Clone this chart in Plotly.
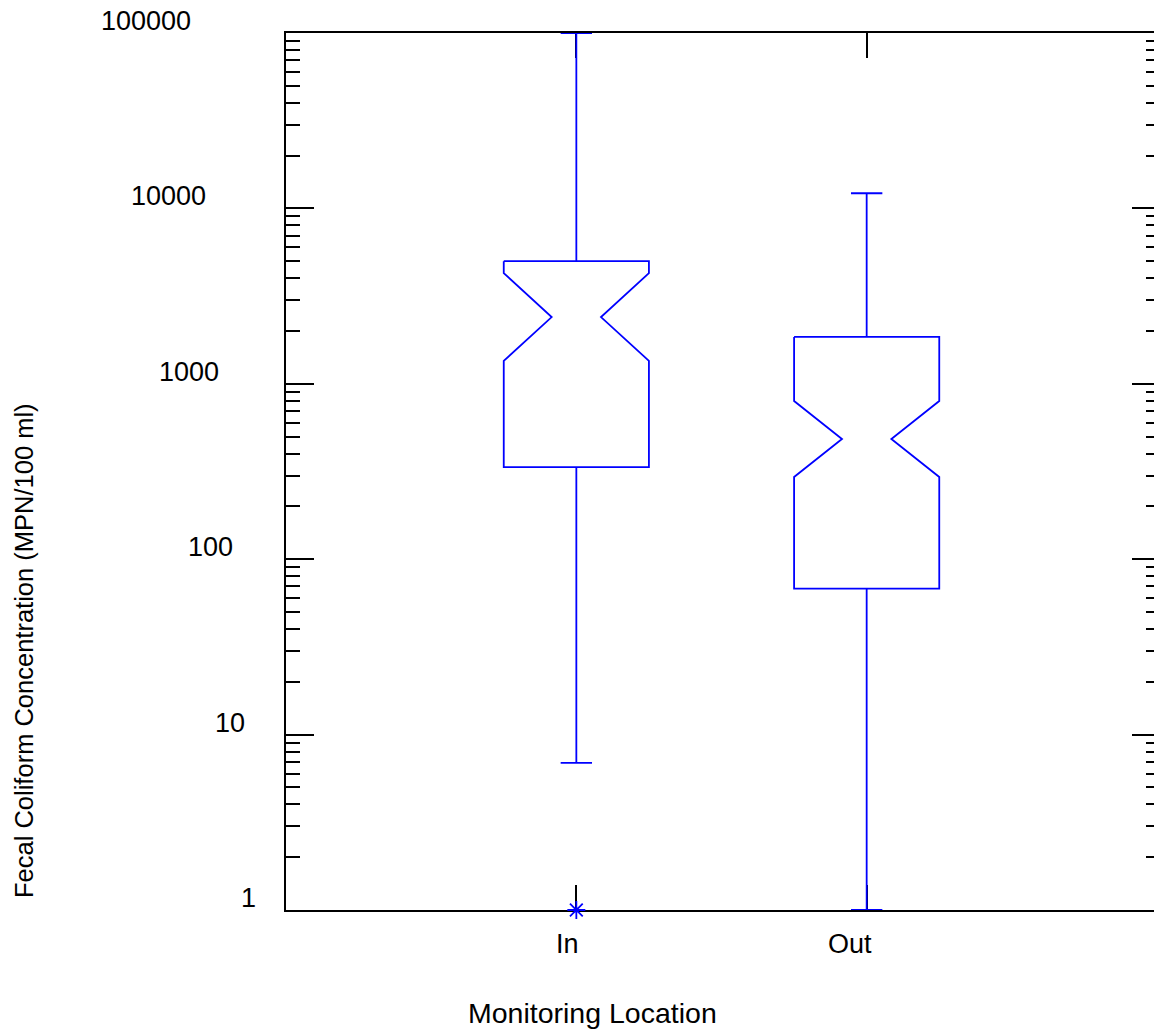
import math
import plotly.graph_objects as go

# ---------------- data ----------------
categories = ["In", "Out"]
q1 = [335, 68]
median = [2400, 484]
q3 = [5000, 1850]
notch_low = [1350, 294]
notch_high = [4280, 798]
whisker_low = [6.9, 1]
whisker_high = [100000, 12200]
outliers = [[1], []]

major_ticks = [1, 10, 100, 1000, 10000, 100000]
major_tick_labels = ["1", "10", "100", "1000", "10000", "100000"]
minor_ticks = [m * d for d in major_ticks[:-1] for m in range(2, 10)]

x_title = "Monitoring Location"
y_title = "Fecal Coliform Concentration (MPN/100 ml)"

# ---------------- style / layout ----------------
BLUE = "#0000ff"
FONT = "Arial, 'Liberation Sans', Helvetica, sans-serif"
W, H = 1162, 1034          # plot frame runs slightly past the 1154px window, as in the reference
ML, MT, MB, MR = 286, 33, 124, 0
PX_PER_UNIT = 291.0
HALF_BOX = 0.25
HALF_NOTCH = 0.085
HALF_CAP = 0.054
ylab_xshift = [-28, -39, -51, -65, -78, -93]   # label right edges (px from axis)
xlab_xshift = [-9, -17]
FS = 27
LW = 1.8

positions = list(range(1, len(categories) + 1))

fig = go.Figure()

for i, c in enumerate(positions):
    xs, ys = [], []
    # notched box outline
    xs += [c - HALF_BOX, c + HALF_BOX, c + HALF_BOX, c + HALF_NOTCH, c + HALF_BOX,
           c + HALF_BOX, c - HALF_BOX, c - HALF_BOX, c - HALF_NOTCH, c - HALF_BOX, c - HALF_BOX, None]
    ys += [q3[i], q3[i], notch_high[i], median[i], notch_low[i],
           q1[i], q1[i], notch_low[i], median[i], notch_high[i], q3[i], None]
    # whiskers
    xs += [c, c, None, c - HALF_CAP, c + HALF_CAP, None]
    ys += [q3[i], whisker_high[i], None, whisker_high[i], whisker_high[i], None]
    xs += [c, c, None, c - HALF_CAP, c + HALF_CAP]
    ys += [q1[i], whisker_low[i], None, whisker_low[i], whisker_low[i]]
    fig.add_trace(go.Scatter(x=xs, y=ys, mode="lines",
                             line=dict(color=BLUE, width=LW),
                             hoverinfo="skip", showlegend=False, cliponaxis=False))
    if outliers[i]:
        fig.add_trace(go.Scatter(x=[c] * len(outliers[i]), y=outliers[i], mode="markers",
                                 marker=dict(symbol="asterisk-open", size=15, color=BLUE,
                                             line=dict(color=BLUE, width=1.8)),
                                 showlegend=False, cliponaxis=False))

# y tick labels (offset above the ticks as in the reference)
annotations = []
for v, t, dx in zip(major_ticks, major_tick_labels, ylab_xshift):
    annotations.append(dict(x=0, xref="paper", y=math.log10(v), yref="y", text=t, showarrow=False,
                            xanchor="right", yanchor="middle", xshift=dx, yshift=12,
                            font=dict(family=FONT, size=FS, color="black")))
# x tick labels
for c, t, dx in zip(positions, categories, xlab_xshift):
    annotations.append(dict(x=c, xref="x", y=0, yref="paper", text=t, showarrow=False,
                            xanchor="center", yanchor="middle", xshift=dx, yshift=-34,
                            font=dict(family=FONT, size=FS, color="black")))
# axis titles
annotations.append(dict(x=0, xref="paper", y=0, yref="paper", text=x_title, showarrow=False,
                        xanchor="center", yanchor="middle", xshift=592 - ML, yshift=-103,
                        font=dict(family=FONT, size=28.5, color="black")))
annotations.append(dict(x=0, xref="paper", y=0, yref="paper", text=y_title, showarrow=False,
                        textangle=-90, xanchor="center", yanchor="middle",
                        xshift=24 - ML, yshift=910 - 651,
                        font=dict(family=FONT, size=25.5, color="black")))

fig.update_layout(
    width=W, height=H,
    margin=dict(l=ML, r=MR, t=MT, b=MB, pad=0),
    paper_bgcolor="white", plot_bgcolor="white",
    font=dict(family=FONT, size=FS, color="black"),
    annotations=annotations,
    xaxis=dict(range=[0, (W - ML - MR) / PX_PER_UNIT], tickmode="array", tickvals=positions,
               showticklabels=False, ticks="inside", ticklen=25, tickwidth=1.6, tickcolor="black",
               showline=True, linecolor="black", linewidth=2, mirror="ticks", layer="below traces",
               showgrid=False, zeroline=False, fixedrange=True),
    yaxis=dict(type="log", range=[0, 5], tickmode="array", tickvals=major_ticks,
               showticklabels=False, ticks="inside", ticklen=28, tickwidth=2, tickcolor="black",
               minor=dict(tickmode="array", tickvals=minor_ticks, ticks="inside", ticklen=14,
                          tickwidth=2, tickcolor="black", showgrid=False),
               showline=True, linecolor="black", linewidth=2, mirror="ticks",
               showgrid=False, zeroline=False, fixedrange=True),
)

fig.write_html("out.html", config={"displayModeBar": False},
               post_script="document.body.style.margin='0';document.body.style.overflow='hidden';")
